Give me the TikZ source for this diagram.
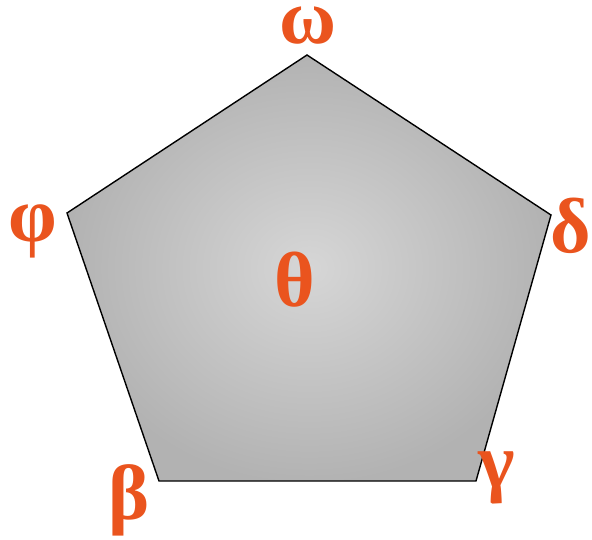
\documentclass[tikz,border=0pt]{standalone}
\usepackage{fontspec}
\setmainfont{Liberation Serif}
\definecolor{lbl}{RGB}{234,84,30}
\begin{document}
\begin{tikzpicture}[x=1pt,y=-1pt,
  lab/.style={inner sep=0pt,text=lbl,font=\fontsize{78}{78}\selectfont\bfseries},
  pent/.style={inner color=black!16,outer color=black!30}]
\useasboundingbox (0,0) rectangle (592,539);
\coordinate (T) at (307,55);
\coordinate (R) at (551,215);
\coordinate (BR) at (476,481);
\coordinate (BL) at (159,481);
\coordinate (L) at (67,213);
\shade[pent] (T) -- (R) -- (BR) -- (BL) -- (L) -- cycle;
\draw[line width=1.4pt,line join=miter] (T) -- (R) -- (BR) -- (BL) -- (L) -- cycle;
\node[lab,anchor=base,text height=34pt,text depth=0pt] (om) at (308,43) {ω};
\node[lab] (ph) at (33,231) {φ};
\node[lab] (de) at (571,226) {δ};
\node[lab] (be) at (129,500) {β};
\node[lab] (ga) at (497,478) {γ};
\node[lab] (th) at (295,280) {θ};
\end{tikzpicture}
\end{document}
